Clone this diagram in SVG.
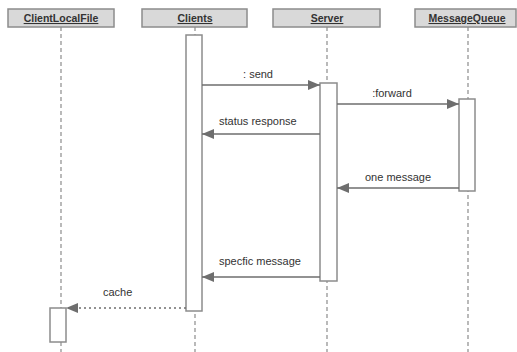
<svg xmlns="http://www.w3.org/2000/svg" width="517" height="352" viewBox="0 0 517 352">
<style>
.hd{fill:#d9d9d9;stroke:#8c8c8c;stroke-width:1.5}
.ht{font-family:"Liberation Sans",Arial,sans-serif;font-size:10.5px;font-weight:bold;fill:#333;text-decoration:underline;text-anchor:middle}
.ll{stroke:#8c8c8c;stroke-width:1.2;stroke-dasharray:4,3;fill:none}
.act{fill:#fff;stroke:#8c8c8c;stroke-width:1.5}
.msg{stroke:#6e6e6e;stroke-width:1.5;fill:none}
.dot{stroke:#6e6e6e;stroke-width:1.5;fill:none;stroke-dasharray:2,3}
.lb{font-family:"Liberation Sans",Arial,sans-serif;font-size:11px;fill:#333}
</style>
<defs>
<marker id="ah" viewBox="0 0 12 10" refX="12" refY="5" markerWidth="12" markerHeight="10" markerUnits="userSpaceOnUse" orient="auto">
<path d="M0,0 L12,5 L0,10 Z" fill="#6e6e6e"/>
</marker>
</defs>
<rect width="517" height="352" fill="#fff"/>
<g id="ClientLocalFile">
<line class="ll" x1="61" y1="27" x2="61" y2="352"/>
<rect class="hd" x="8" y="9" width="106" height="18"/>
<text class="ht" x="61" y="22">ClientLocalFile</text>
<rect class="act" x="50" y="308" width="16" height="34"/>
</g>
<g id="Clients">
<line class="ll" x1="195" y1="27" x2="195" y2="352"/>
<rect class="hd" x="142" y="9" width="105" height="18"/>
<text class="ht" x="195" y="22">Clients</text>
<rect class="act" x="186" y="35" width="16" height="276"/>
</g>
<g id="Server">
<line class="ll" x1="327" y1="27" x2="327" y2="352"/>
<rect class="hd" x="273" y="9" width="107" height="18"/>
<text class="ht" x="327" y="22">Server</text>
<rect class="act" x="320" y="83" width="17" height="198"/>
</g>
<g id="MessageQueue">
<line class="ll" x1="468" y1="27" x2="468" y2="352"/>
<rect class="hd" x="415" y="9" width="101" height="18"/>
<text class="ht" x="467" y="22">MessageQueue</text>
<rect class="act" x="459" y="99" width="16" height="92"/>
</g>
<g id="connectors">
<line class="msg" x1="202" y1="85" x2="320" y2="85" marker-end="url(#ah)"/>
<text class="lb" x="258" y="78" text-anchor="middle">: send</text>
<line class="msg" x1="320" y1="134" x2="202" y2="134" marker-end="url(#ah)"/>
<text class="lb" x="219" y="125">status response</text>
<line class="msg" x1="337" y1="104" x2="459" y2="104" marker-end="url(#ah)"/>
<text class="lb" x="392" y="97" text-anchor="middle">:forward</text>
<line class="msg" x1="459" y1="188" x2="337" y2="188" marker-end="url(#ah)"/>
<text class="lb" x="365" y="181">one message</text>
<line class="msg" x1="320" y1="277" x2="202" y2="277" marker-end="url(#ah)"/>
<text class="lb" x="219" y="265">specfic message</text>
<line class="dot" x1="186" y1="308" x2="66" y2="308" marker-end="url(#ah)"/>
<text class="lb" x="103" y="296">cache</text>
</g>
</svg>
